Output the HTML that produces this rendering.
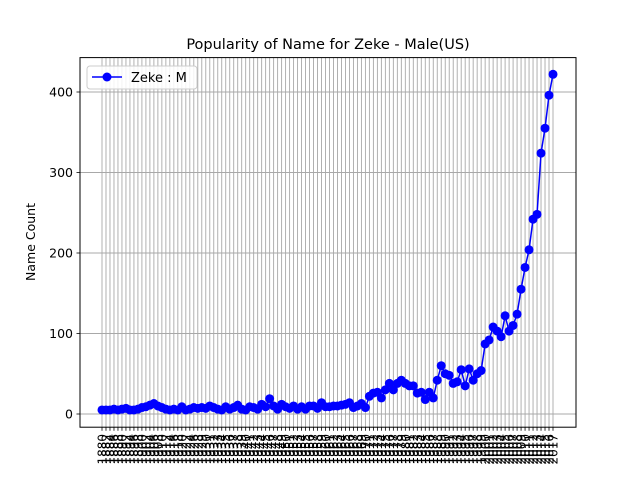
<!DOCTYPE html>
<html><head><meta charset="utf-8"><style>
html,body{margin:0;padding:0;background:#fff;}
svg{display:block;font-family:"DejaVu Sans","Liberation Sans",sans-serif;}
</style></head><body>
<svg id="chart" width="640" height="480" viewBox="0 0 640 480">
<text x="328" y="49" font-size="14.5" text-anchor="middle">Popularity of Name for Zeke - Male(US)</text>
<text transform="translate(35,242) rotate(-90)" font-size="12.5" text-anchor="middle">Name Count</text>
<g id="grid"></g>
<g id="xticks"></g>
<g id="yticks"></g>
<g id="series"></g>
<rect x="80" y="57.6" width="496" height="369.6" fill="none" stroke="#000" stroke-width="1"/>
<g>
<rect x="87" y="66" width="110" height="23" rx="3" fill="#fff" fill-opacity="0.85" stroke="#ccc"/>
<line x1="92" y1="77" x2="122" y2="77" stroke="#0000ff" stroke-width="1.5"/>
<circle cx="107" cy="77" r="4.5" fill="#0000ff"/>
<text x="131" y="82" font-size="13">Zeke : M</text>
</g>
</svg>
<script>
const years = [
1880,1882,1884,1886,1888,1890,1892,1894,1896,1898,1900,1902,1904,1906,1908,1910,1912,1914,1916,1918,1920,1922,1924,
1926,1928,1929,1930,1931,1932,1933,1934,1935,1936,1937,1938,1939,1940,1941,1942,1943,1944,1945,1946,1947,1948,1949,
1950,1951,1952,1953,1954,1955,1956,1957,1958,1959,1960,1961,1962,1963,1964,1965,1966,1967,1968,1969,1970,
1971,1972,1973,1974,1975,1976,1977,1978,1979,1980,1981,1982,1983,1984,1985,1986,1987,1988,1989,1990,1991,1992,1993,1994,1995,1996,1997,1998,1999,
2000,2001,2002,2003,2004,2005,2006,2007,2008,2009,2010,2011,2012,2013,2014,2015,2016,2017
];
const counts = [
5,5,5,6,5,6,7,5,5,6,8,9,11,
13,10,8,6,5,6,5,9,
5,6,8,7,8,7,10,8,6,5,9,6,8,11,6,5,9,8,6,12,9,
19,10,6,12,9,7,10,6,9,6,10,10,7,14,9,9,10,10,11,12,14,8,10,13,8,
22,26,27,20,30,38,30,38,42,38,35,35,26,27,18,27,20,42,60,50,48,38,40,55,35,56,42,50,54,
87,92,108,103,96,122,103,110,124,155,182,204,242,248,324,355,396,422
];
const yTicks = [0,100,200,300,400];
const NS='http://www.w3.org/2000/svg';
const X0=102, X1=553, Y0=414, PPU=0.805;
function xs(i){return X0 + i*(X1-X0)/(years.length-1);}
function ys(v){return Y0 - v*PPU;}
function mk(tag,attrs,parent){const e=document.createElementNS(NS,tag);for(const k in attrs)e.setAttribute(k,attrs[k]);parent.appendChild(e);return e;}
const grid=document.getElementById('grid'), xt=document.getElementById('xticks'), yt=document.getElementById('yticks'), ser=document.getElementById('series');
years.forEach((yr,i)=>{
  const x=xs(i);
  const g=mk('line',{x1:x,y1:57.6,x2:x,y2:427.2,stroke:'#a8a8a8','stroke-width':0.9},grid);
  
  
  const t=mk('line',{x1:x,y1:427.2,x2:x,y2:430.7,stroke:'#000','stroke-width':0.8},xt);
  
  
  const l=mk('text',{transform:`translate(${x+4.5},434) rotate(-90)`,'font-size':12,'text-anchor':'end'},xt);
  l.textContent=yr;
  
  
});
yTicks.forEach(v=>{
  const y=ys(v);
  const g=mk('line',{x1:80,y1:y,x2:576,y2:y,stroke:'#a8a8a8','stroke-width':0.9},grid);
  
  
  const t=mk('line',{x1:76.5,y1:y,x2:80,y2:y,stroke:'#000','stroke-width':0.8},yt);
  
  
  const l=mk('text',{x:73,y:y+4.5,'font-size':12.5,'text-anchor':'end'},yt);
  l.textContent=v;
  
  
});
const pts=counts.map((v,i)=>xs(i)+','+ys(v)).join(' ');
const pl=mk('polyline',{points:pts,fill:'none',stroke:'#0000ff','stroke-width':1.5},ser);


counts.forEach((v,i)=>{
  const c=mk('circle',{cx:xs(i),cy:ys(v),r:4.5,fill:'#0000ff'},ser);
  
  
});
</script>
</body></html>
